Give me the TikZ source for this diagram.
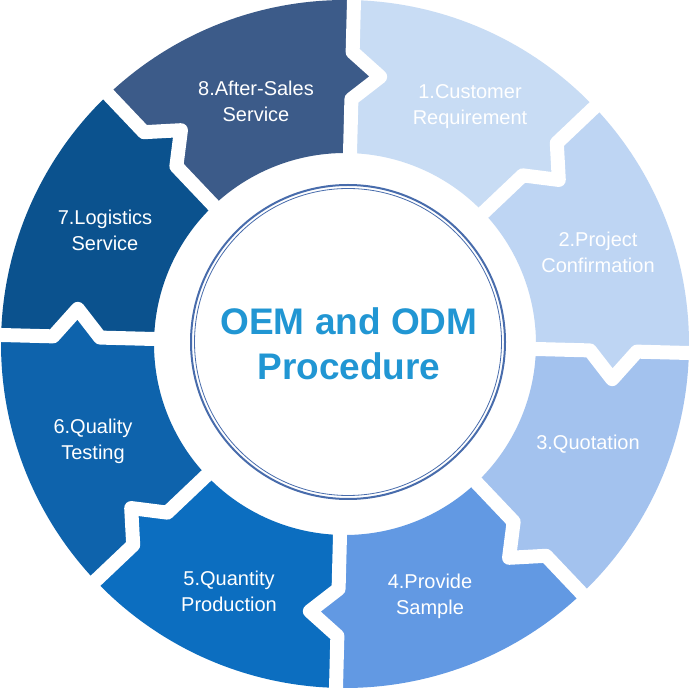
\documentclass[tikz,border=0pt]{standalone}
\usepackage{fontspec}
\setmainfont{Liberation Sans}
\definecolor{segA}{RGB}{200,220,244}
\definecolor{segB}{RGB}{190,213,243}
\definecolor{segC}{RGB}{163,194,238}
\definecolor{segD}{RGB}{98,153,227}
\definecolor{segE}{RGB}{12,110,192}
\definecolor{segF}{RGB}{14,99,172}
\definecolor{segG}{RGB}{11,82,142}
\definecolor{segH}{RGB}{60,91,137}
\definecolor{titleblue}{RGB}{33,150,211}
\definecolor{ringline}{RGB}{72,108,172}
\begin{document}
\begin{tikzpicture}[x=1pt,y=1pt,
  seglabel/.style={text=white, font=\fontsize{20}{26}\selectfont, align=center, inner sep=0pt},
  gapline/.style={draw=white, line width=14pt, line join=round},
  titletext/.style={text=titleblue, font=\bfseries\fontsize{37}{45}\selectfont, align=center, inner sep=0pt}
  ]
\useasboundingbox (0,0) rectangle (693,688);
\fill[white] (0,0) rectangle (693,688);
\begin{scope}[shift={(345,344)}]
  \foreach \a/\col in {88.5/segA, 43.5/segB, -1.5/segC, -46.5/segD, -91.5/segE, -136.5/segF, -181.5/segG, -226.5/segH} {
    \fill[\col] (\a:191) -- (\a:245) -- (\a-6:269.5) -- (\a:292) -- (\a:344)
      arc[start angle=\a, end angle=\a-45, radius=344]
      -- (\a-45:292) -- (\a-51:269.5) -- (\a-45:245) -- (\a-45:191)
      arc[start angle=\a-45, end angle=\a, radius=191] -- cycle;
  }
  \foreach \a in {88.5, 43.5, -1.5, -46.5, -91.5, -136.5, -181.5, -226.5} {
    \draw[gapline] (\a:172) -- (\a:245) -- (\a-6:269.5) -- (\a:292) -- (\a:370);
  }
\end{scope}
\node[circle, fill=white, draw=ringline, line width=2pt, minimum size=314pt, inner sep=0pt] (hub) at (348,346) {};
\draw[ringline, line width=0.8pt] (hub.center) circle (153.5);
\node[titletext] (title) at (349,344) {OEM and ODM\\Procedure};
\node[seglabel] (t1) at (470,581) {1.Customer\\Requirement};
\node[seglabel] (t2) at (598,436) {2.Project\\Confirmation};
\node[seglabel] (t3) at (588,244) {3.Quotation};
\node[seglabel] (t4) at (430,92) {4.Provide\\Sample};
\node[seglabel] (t5) at (229,97) {5.Quantity\\Production};
\node[seglabel] (t6) at (93,247) {6.Quality\\Testing};
\node[seglabel] (t7) at (105,458) {7.Logistics\\Service};
\node[seglabel] (t8) at (256,587) {8.After-Sales\\Service};
\end{tikzpicture}
\end{document}
